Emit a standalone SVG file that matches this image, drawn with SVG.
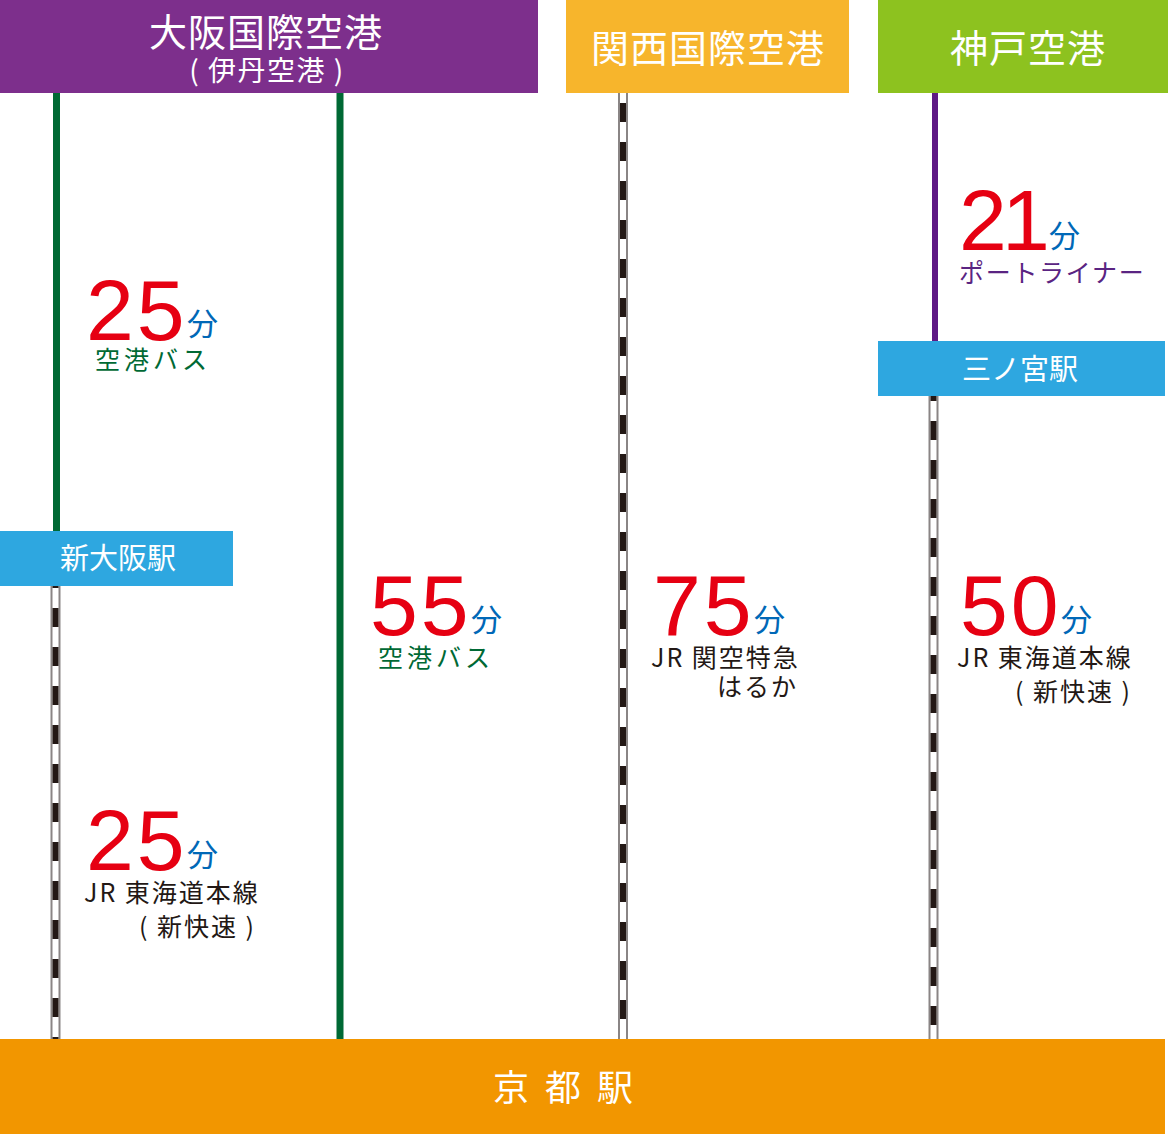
<svg xmlns="http://www.w3.org/2000/svg" width="1168" height="1134" viewBox="0 0 1168 1134">
<style>
.jp{font-family:"Noto Sans CJK JP","Noto Sans",sans-serif}
.hd{fill:#fff;font-size:38px}
.st{fill:#fff;font-size:29px}
.num{font-family:"Liberation Sans",Arial,sans-serif;fill:#e60012;font-size:86px;letter-spacing:3px}
.fun{fill:#0068b7;font-size:31px}
.lbl{fill:#231815;font-size:25px;letter-spacing:2px}
.grn{fill:#006934;font-size:25px;letter-spacing:4px}
.pur{fill:#5a2482;font-size:25px;letter-spacing:1.7px}
.railo{stroke:#8a8585;stroke-width:10;fill:none}
.raili{stroke:#fff;stroke-width:6;fill:none}
.raild{stroke:#231815;stroke-width:6;fill:none;stroke-dasharray:19 20}
</style>
<rect width="1168" height="1134" fill="#fff"/>
<g id="connectors">
  <line x1="56.5" y1="93" x2="56.5" y2="531" stroke="#006934" stroke-width="7"/>
  <line x1="340" y1="93" x2="340" y2="1039" stroke="#006934" stroke-width="7"/>
  <line x1="935" y1="93" x2="935" y2="341" stroke="#5f1985" stroke-width="6"/>
  <g id="rail-shinosaka-kyoto">
    <line class="railo" x1="55.5" y1="586" x2="55.5" y2="1039"/>
    <line class="raili" x1="55.5" y1="586" x2="55.5" y2="1039"/>
    <line class="raild" x1="55.5" y1="586" x2="55.5" y2="1039" stroke-dashoffset="17"/>
  </g>
  <g id="rail-kansai-kyoto">
    <line class="railo" x1="623" y1="93" x2="623" y2="1039"/>
    <line class="raili" x1="623" y1="93" x2="623" y2="1039"/>
    <line class="raild" x1="623" y1="93" x2="623" y2="1039" stroke-dashoffset="29"/>
  </g>
  <g id="rail-sannomiya-kyoto">
    <line class="railo" x1="933.5" y1="396" x2="933.5" y2="1039"/>
    <line class="raili" x1="933.5" y1="396" x2="933.5" y2="1039"/>
    <line class="raild" x1="933.5" y1="396" x2="933.5" y2="1039" stroke-dashoffset="14"/>
  </g>
</g>
<g id="itami">
  <rect x="0" y="0" width="538" height="93" fill="#7d2f8c"/>
  <text class="jp hd" x="266" y="46" text-anchor="middle" letter-spacing="1">大阪国際空港</text>
  <text class="jp" x="267" y="81" text-anchor="middle" fill="#fff" font-size="28" letter-spacing="1.5">( 伊丹空港 )</text>
</g>
<g id="kansai">
  <rect x="566" y="0" width="283" height="93" fill="#f7b52c"/>
  <text class="jp hd" x="708" y="62" text-anchor="middle" letter-spacing="1">関西国際空港</text>
</g>
<g id="kobe">
  <rect x="878" y="0" width="290" height="93" fill="#8dc21f"/>
  <text class="jp hd" x="1028" y="62" text-anchor="middle" letter-spacing="1">神戸空港</text>
</g>
<g id="shinosaka">
  <rect x="0" y="531" width="233" height="55" fill="#2ea7e0"/>
  <text class="jp st" x="118" y="569" text-anchor="middle">新大阪駅</text>
</g>
<g id="sannomiya">
  <rect x="878" y="341" width="287" height="55" fill="#2ea7e0"/>
  <text class="jp st" x="1020" y="380" text-anchor="middle">三ノ宮駅</text>
</g>
<g id="kyoto">
  <rect x="0" y="1039" width="1165" height="95" fill="#f29600"/>
  <text class="jp" x="565" y="1101" text-anchor="middle" fill="#fff" font-size="36" letter-spacing="4">京 都 駅</text>
</g>
<g id="label-itami-bus">
  <text class="num" x="86" y="340">25</text>
  <text class="jp fun" x="187" y="335">分</text>
  <text class="jp grn" x="95" y="369">空港バス</text>
</g>
<g id="label-shinosaka-jr">
  <text class="num" x="86" y="870">25</text>
  <text class="jp fun" x="187" y="866">分</text>
  <text class="jp lbl" x="84" y="902">JR 東海道本線</text>
  <text class="jp lbl" x="256" y="936" text-anchor="end">( 新快速 )</text>
</g>
<g id="label-itami-bus-direct">
  <text class="num" x="370" y="635">55</text>
  <text class="jp fun" x="471" y="631">分</text>
  <text class="jp grn" x="378" y="667">空港バス</text>
</g>
<g id="label-kansai">
  <text class="num" x="653" y="635">75</text>
  <text class="jp fun" x="754" y="631">分</text>
  <text class="jp lbl" x="651" y="667">JR 関空特急</text>
  <text class="jp lbl" x="798" y="696" text-anchor="end">はるか</text>
</g>
<g id="label-kobe-jr">
  <text class="num" x="960" y="635">50</text>
  <text class="jp fun" x="1061" y="631">分</text>
  <text class="jp lbl" x="957" y="667">JR 東海道本線</text>
  <text class="jp lbl" x="1132" y="701" text-anchor="end">( 新快速 )</text>
</g>
<g id="label-portliner">
  <text class="num" x="959" y="250" letter-spacing="0">2<tspan x="1002">1</tspan></text>
  <text class="jp fun" x="1049" y="247">分</text>
  <text class="jp pur" x="959" y="282">ポートライナー</text>
</g>
</svg>
